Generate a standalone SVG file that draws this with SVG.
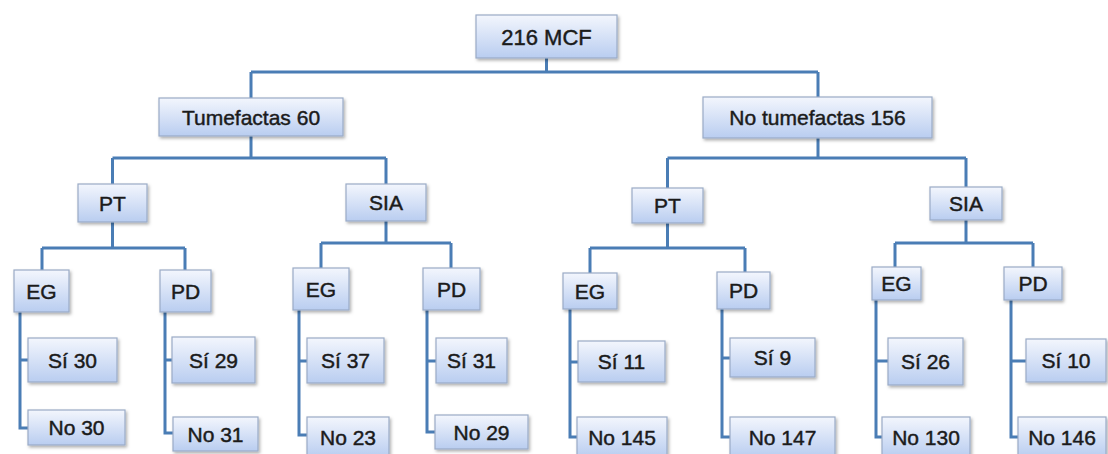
<svg xmlns="http://www.w3.org/2000/svg" width="1108" height="454" viewBox="0 0 1108 454">
<defs>
<linearGradient id="g" x1="0" y1="0" x2="0" y2="1">
<stop offset="0" stop-color="#f3f6fd"/>
<stop offset="1" stop-color="#b9cdf0"/>
</linearGradient>
<filter id="sh" x="-20%" y="-20%" width="140%" height="150%">
<feDropShadow dx="1.5" dy="2" stdDeviation="1.5" flood-color="#000" flood-opacity="0.3"/>
</filter>
<style>
.b{fill:url(#g);stroke:#9aabc6;stroke-width:1.2;filter:url(#sh)}
.t{font-family:"Liberation Sans",Arial,sans-serif;font-size:21px;fill:#1b1b1b;stroke:#1b1b1b;stroke-width:0.45;text-anchor:middle;dominant-baseline:central}
.c{fill:none;stroke:#4a7db5;stroke-width:3}
</style>
</defs>
<rect width="1108" height="454" fill="#fff"/>
<g id="connectors" class="c">
<path d="M546.5 58V72M251 72H818M251 72V98M818 72V97"/>
<path d="M251 136V158M112.5 158H386M112.5 158V184M386 158V184"/>
<path d="M818 138V158M667.5 158H966M667.5 158V188M966 158V187"/>
<path d="M112.5 222V248M42 248H185M42 248V270M185 248V270"/>
<path d="M386 221V243M321 243H451M321 243V268M451 243V268"/>
<path d="M667.5 223V248M590 248H745M590 248V273M745 248V272"/>
<path d="M966 220V243M895 243H1033M895 243V267M1033 243V267"/>
<path d="M20 312V428H28M20 360H28"/>
<path d="M165 312V433H173M165 360H172"/>
<path d="M299 310V435H307M299 361H307"/>
<path d="M427 310V432H435M427 361H436"/>
<path d="M570 309V437H577M570 362H578"/>
<path d="M722 309V437H730M722 358H730"/>
<path d="M876 300V437H882M876 361H888"/>
<path d="M1011 300V437H1018M1011 361H1026"/>
</g>
<g id="n-root"><rect class="b" x="476" y="15" width="141" height="43"/><text class="t" x="546.5" y="37" style="font-size:22px">216 MCF</text></g>
<g id="n-tum"><rect class="b" x="159" y="98" width="184" height="38"/><text class="t" x="251" y="117">Tumefactas 60</text></g>
<g id="n-notum"><rect class="b" x="703" y="97" width="229" height="41"/><text class="t" x="817.5" y="117.5">No tumefactas 156</text></g>
<g id="n-pt1"><rect class="b" x="78" y="184" width="69" height="38"/><text class="t" x="112.5" y="203">PT</text></g>
<g id="n-sia1"><rect class="b" x="346" y="184" width="80" height="37"/><text class="t" x="386" y="202.5">SIA</text></g>
<g id="n-pt2"><rect class="b" x="632" y="188" width="71" height="35"/><text class="t" x="667.5" y="205.5">PT</text></g>
<g id="n-sia2"><rect class="b" x="930" y="187" width="72" height="33"/><text class="t" x="966" y="203.5">SIA</text></g>
<g id="n-eg1"><rect class="b" x="14" y="270" width="55" height="42"/><text class="t" x="41.5" y="291">EG</text></g>
<g id="n-pd1"><rect class="b" x="160" y="270" width="51" height="42"/><text class="t" x="185.5" y="291">PD</text></g>
<g id="n-eg2"><rect class="b" x="293" y="268" width="56" height="42"/><text class="t" x="321" y="289">EG</text></g>
<g id="n-pd2"><rect class="b" x="423" y="268" width="57" height="42"/><text class="t" x="451.5" y="289">PD</text></g>
<g id="n-eg3"><rect class="b" x="563" y="273" width="54" height="36"/><text class="t" x="590" y="291">EG</text></g>
<g id="n-pd3"><rect class="b" x="717" y="272" width="53" height="37"/><text class="t" x="743.5" y="290.5">PD</text></g>
<g id="n-eg4"><rect class="b" x="872" y="267" width="49" height="33"/><text class="t" x="896.5" y="283.5">EG</text></g>
<g id="n-pd4"><rect class="b" x="1004" y="267" width="58" height="33"/><text class="t" x="1033" y="283.5">PD</text></g>
<g id="n-si30"><rect class="b" x="28" y="338" width="89" height="44"/><text class="t" x="72.5" y="360">Sí 30</text></g>
<g id="n-no30"><rect class="b" x="28" y="410" width="97" height="35"/><text class="t" x="76.5" y="427.5">No 30</text></g>
<g id="n-si29"><rect class="b" x="172" y="337" width="83" height="46"/><text class="t" x="213.5" y="360">Sí 29</text></g>
<g id="n-no31"><rect class="b" x="173" y="417" width="85" height="34"/><text class="t" x="215.5" y="434">No 31</text></g>
<g id="n-si37"><rect class="b" x="307" y="338" width="77" height="45"/><text class="t" x="345.5" y="360.5">Sí 37</text></g>
<g id="n-no23"><rect class="b" x="307" y="417" width="82" height="40"/><text class="t" x="348" y="437">No 23</text></g>
<g id="n-si31"><rect class="b" x="436" y="338" width="71" height="45"/><text class="t" x="471.5" y="360.5">Sí 31</text></g>
<g id="n-no29"><rect class="b" x="435" y="415" width="93" height="34"/><text class="t" x="481.5" y="432">No 29</text></g>
<g id="n-si11"><rect class="b" x="578" y="341" width="87" height="41"/><text class="t" x="621.5" y="361.5">Sí 11</text></g>
<g id="n-no145"><rect class="b" x="577" y="417" width="90" height="40"/><text class="t" x="622" y="437">No 145</text></g>
<g id="n-si9"><rect class="b" x="730" y="338" width="85" height="39"/><text class="t" x="772.5" y="357.5">Sí 9</text></g>
<g id="n-no147"><rect class="b" x="730" y="417" width="105" height="40"/><text class="t" x="782.5" y="437">No 147</text></g>
<g id="n-si26"><rect class="b" x="888" y="338" width="75" height="47"/><text class="t" x="925.5" y="361.5">Sí 26</text></g>
<g id="n-no130"><rect class="b" x="882" y="417" width="88" height="40"/><text class="t" x="926" y="437">No 130</text></g>
<g id="n-si10"><rect class="b" x="1026" y="339" width="80" height="43"/><text class="t" x="1066" y="360.5">Sí 10</text></g>
<g id="n-no146"><rect class="b" x="1018" y="417" width="88" height="40"/><text class="t" x="1062" y="437">No 146</text></g>
</svg>
